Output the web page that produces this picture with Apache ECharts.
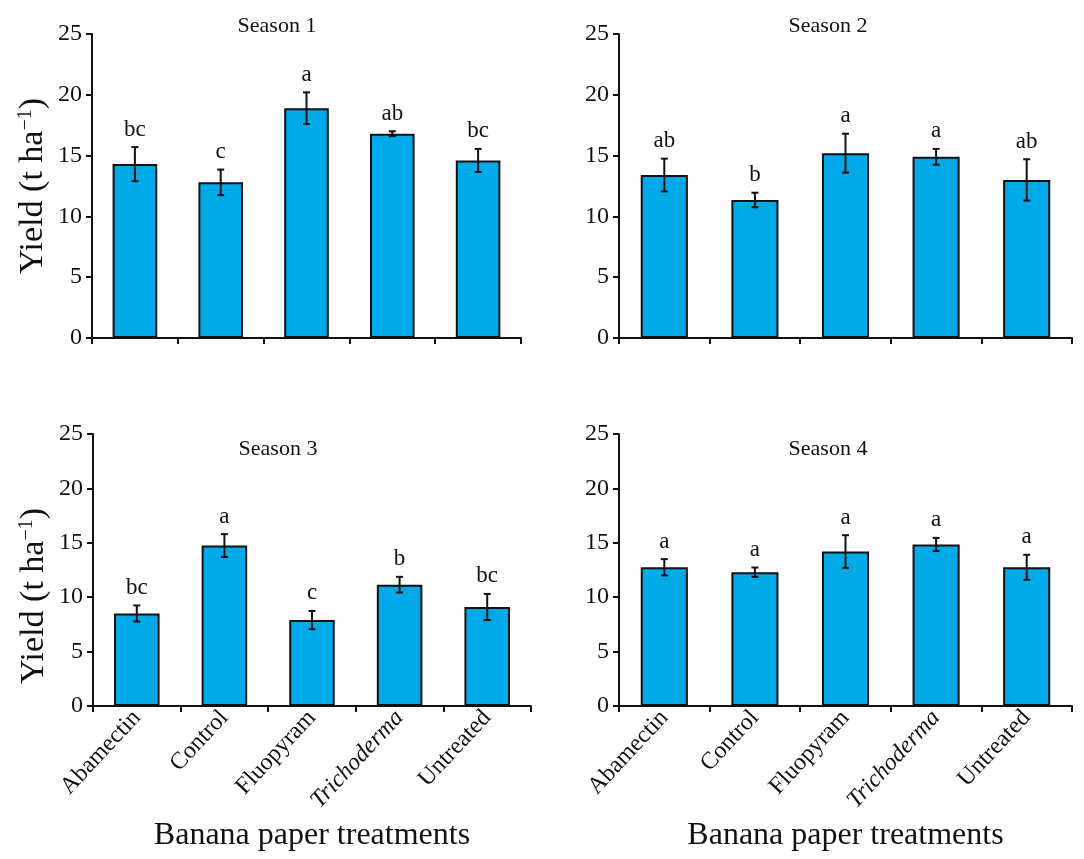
<!DOCTYPE html>
<html>
<head>
<meta charset="utf-8">
<script src="https://cdn.jsdelivr.net/npm/echarts@6/dist/echarts.min.js"></script>
<style>
  html, body { margin: 0; padding: 0; background: #fff; }
  #chart { width: 1084px; height: 859px; }
</style>
</head>
<body>
<div id="chart"></div>
<script>
  // treatments on the x axis
  var treatments = ['Abamectin', 'Control', 'Fluopyram', 'Trichoderma', 'Untreated'];
  var seasons = ['Season 1', 'Season 2', 'Season 3', 'Season 4'];
  var yTicks = [0, 5, 10, 15, 20, 25];

  // mean yield (t/ha) per season
  var yield1 = [14.3, 12.8, 18.9, 16.8, 14.6];
  var yield2 = [13.4, 11.35, 15.2, 14.9, 13.0];
  var yield3 = [8.5, 14.75, 7.9, 11.15, 9.1];
  var yield4 = [12.75, 12.3, 14.2, 14.85, 12.75];

  // standard errors
  var err1 = [1.4, 1.05, 1.3, 0.2, 0.95];
  var err2 = [1.35, 0.6, 1.6, 0.65, 1.7];
  var err3 = [0.74, 1.05, 0.84, 0.72, 1.2];
  var err4 = [0.75, 0.43, 1.5, 0.6, 1.15];

  // significance letters
  var letters1 = ['bc', 'c', 'a', 'ab', 'bc'];
  var letters2 = ['ab', 'b', 'a', 'a', 'ab'];
  var letters3 = ['bc', 'a', 'c', 'b', 'bc'];
  var letters4 = ['a', 'a', 'a', 'a', 'a'];

  var yields = [yield1, yield2, yield3, yield4];
  var errs = [err1, err2, err3, err4];
  var letters = [letters1, letters2, letters3, letters4];

  var serif = '"Liberation Serif", "Times New Roman", serif';
  var ink = '#111';

  var grids = [
    {left: 92, top: 34, width: 429, height: 304},
    {left: 619, top: 34, width: 453, height: 304},
    {left: 93, top: 434, width: 438, height: 272},
    {left: 619, top: 434, width: 453, height: 272}
  ];
  // y name padding: nudges the rotated name along the axis
  var namePads = [[0, 0, 0, 0], null, [0, 52, 0, 0], null];

  function errRender(lett) {
    return function (params, api) {
      var i = api.value(0);
      var v = api.value(1);
      var e = api.value(2);
      var top = api.coord([i, v + e]);
      var bot = api.coord([i, v - e]);
      var cap = 3.5;
      var ls = {stroke: ink, lineWidth: 2};
      return {
        type: 'group',
        children: [
          {type: 'line', shape: {x1: top[0], y1: top[1], x2: bot[0], y2: bot[1]}, style: ls},
          {type: 'line', shape: {x1: top[0] - cap, y1: top[1], x2: top[0] + cap, y2: top[1]}, style: ls},
          {type: 'line', shape: {x1: bot[0] - cap, y1: bot[1], x2: bot[0] + cap, y2: bot[1]}, style: ls},
          {type: 'text', x: top[0], y: top[1] - 6,
            style: {text: lett[params.dataIndex], align: 'center', verticalAlign: 'bottom',
              fontSize: 23, fontFamily: serif, fill: ink}}
        ]
      };
    };
  }

  var xAxes = [], yAxes = [], series = [], titles = [];
  for (var k = 0; k < 4; k++) {
    var bottomRow = k >= 2;
    var leftCol = k % 2 === 0;
    var g = grids[k];
    titles.push({
      text: seasons[k],
      left: g.left + (leftCol ? 180 : 204),
      top: bottomRow ? 433 : 10,
      textAlign: 'center',
      textStyle: {fontFamily: serif, fontSize: 22, fontWeight: 'normal', color: ink}
    });
    xAxes.push({
      type: 'category',
      gridIndex: k,
      data: treatments,
      axisLine: {lineStyle: {color: ink, width: 2}},
      axisTick: {show: true, length: 6, lineStyle: {color: ink, width: 2}},
      axisLabel: {
        show: bottomRow,
        rotate: 47,
        margin: 8,
        interval: 0,
        color: ink,
        fontFamily: serif,
        fontSize: 24,
        formatter: function (v) { return v === 'Trichoderma' ? '{i|' + v + '}' : v; },
        rich: {i: {fontStyle: 'italic', fontFamily: serif, fontSize: 24, color: ink}}
      },
      name: bottomRow ? 'Banana paper treatments' : '',
      nameLocation: 'middle',
      nameGap: 114,
      nameTextStyle: {fontFamily: serif, fontSize: 32, color: ink}
    });
    yAxes.push({
      type: 'value',
      gridIndex: k,
      min: yTicks[0],
      max: yTicks[yTicks.length - 1],
      interval: yTicks[1] - yTicks[0],
      splitLine: {show: false},
      axisLine: {show: true, lineStyle: {color: ink, width: 2}},
      axisTick: {show: true, length: 6, lineStyle: {color: ink, width: 2}},
      axisLabel: {color: ink, fontFamily: serif, fontSize: 24, margin: 10},
      name: leftCol ? 'Yield (t ha{sup|\u22121})' : '',
      nameLocation: 'middle',
      nameGap: 42,
      nameTextStyle: {
        fontFamily: serif, fontSize: 34, color: ink, padding: namePads[k] || 0,
        rich: {sup: {fontFamily: serif, fontSize: 20, color: ink, verticalAlign: 'top', padding: [0, 0, 14, 0]}}
      }
    });
    series.push({
      type: 'bar',
      xAxisIndex: k,
      yAxisIndex: k,
      data: yields[k],
      barWidth: '52%',
      itemStyle: {color: '#00AAE9', borderColor: ink, borderWidth: 2},
      silent: true
    });
    var errData = yields[k].map(function (v, i) { return [i, v, errs[k][i]]; });
    series.push({
      type: 'custom',
      xAxisIndex: k,
      yAxisIndex: k,
      data: errData,
      encode: {x: 0, y: 1},
      renderItem: errRender(letters[k]),
      z: 5,
      silent: true
    });
  }

  var chart = echarts.init(document.getElementById('chart'));
  chart.setOption({
    animation: false,
    backgroundColor: '#fff',
    title: titles,
    grid: grids,
    xAxis: xAxes,
    yAxis: yAxes,
    series: series
  });
</script>
</body>
</html>
